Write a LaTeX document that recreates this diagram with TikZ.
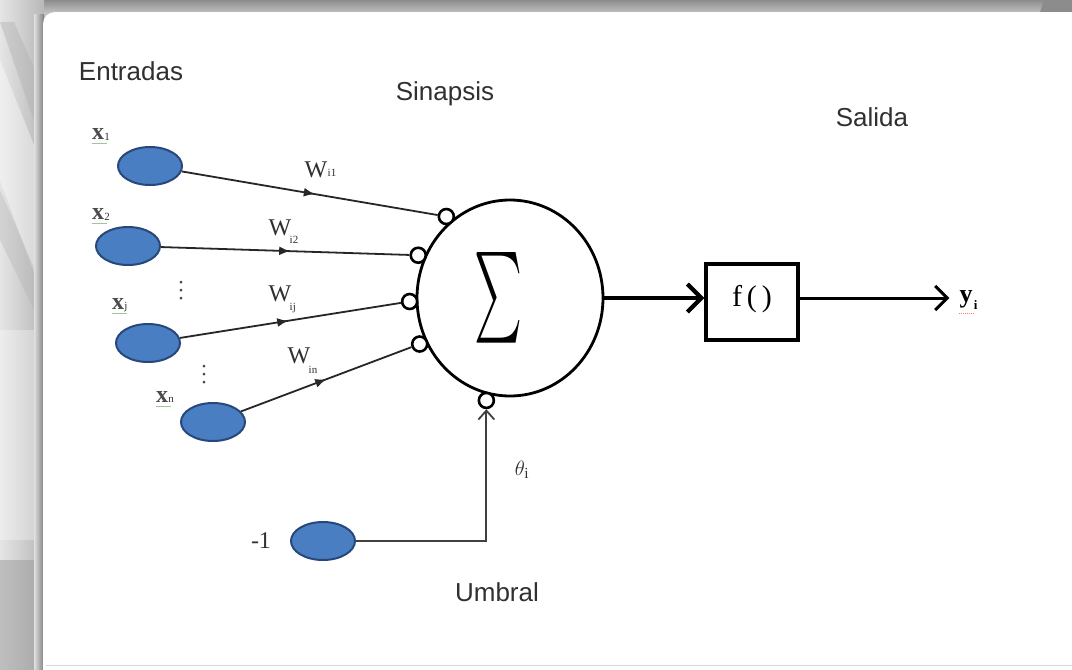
\documentclass[tikz,border=0pt]{standalone}
\usepackage{fontspec}
\usepackage{graphicx}
\setmainfont{Liberation Serif}
\newfontfamily\labelsans{Liberation Sans}
\usetikzlibrary{arrows.meta,calc,decorations.markings,shapes.geometric}

\definecolor{inpfill}{HTML}{4A7EC2}
\definecolor{inpedge}{HTML}{27487A}
\definecolor{inktext}{HTML}{303030}

\tikzset{
  inp/.style={ellipse, draw=inpedge, fill=inpfill, line width=2pt,
    minimum width=64pt, minimum height=38pt, inner sep=0pt},
  syn/.style={circle, draw=black, fill=white, line width=2.6pt,
    minimum size=15pt, inner sep=0pt},
  wire/.style={line width=1.8pt, draw=black!85},
  midarrow/.style={postaction=decorate, decoration={markings,
    mark=at position #1 with {\arrow{Latex[length=11pt,width=9pt]}}}},
  heading/.style={font=\labelsans\fontsize{26}{30}\selectfont, text=inktext},
  seriflbl/.style={font=\fontsize{24}{28}\selectfont, text=inktext, inner sep=0pt},
  xlbl/.style={font=\bfseries\fontsize{24}{28}\selectfont, text=black!70, inner sep=0pt},
  sublbl/.style={font=\fontsize{11}{12}\selectfont, text=inktext, inner sep=0pt},
  dot/.style={circle, fill=black!75, inner sep=0pt, minimum size=3pt},
}

\begin{document}
\begin{tikzpicture}[x=1pt, y=-1pt]
  \useasboundingbox (0,0) rectangle (1072,670);

  % backdrop behind the card
  \fill[black!22] (0,0) rectangle (1072,670);
  \shade[top color=black!45, bottom color=black!22] (0,0) rectangle (1072,14);
  \shade[left color=black!10, right color=black!28] (0,0) rectangle (44,670);
  \fill[black!30, opacity=0.45] (0,22) -- (14,22) -- (44,90) -- (44,150) -- cycle;
  \fill[white, opacity=0.4] (0,60) -- (0,180) -- (44,300) -- (44,170) -- cycle;
  \fill[black!30, opacity=0.35] (0,190) -- (0,240) -- (44,330) -- (44,290) -- cycle;
  \fill[white, opacity=0.3] (0,330) rectangle (44,540);
  \fill[black!40, opacity=0.5] (0,560) rectangle (44,670);
  \fill[black!45] (1044,0) -- (1072,0) -- (1072,12) -- (1040,12) -- cycle;

  % the card
  \shade[left color=black!12, right color=black!50] (34,14) rectangle (44,670);
  \fill[white, rounded corners=12pt] (43,12) rectangle (1100,700);
  \draw[black!15, line width=1pt] (46,665) -- (1072,665);

  % headings
  \node[heading] (hin)  at (131,71)  {Entradas};
  \node[heading] (hsyn) at (445,94)  {Sinapsis};
  \node[heading] (hout) at (872,117) {Salida};
  \node[heading] (hthr) at (497,592) {Umbral};

  % inputs
  \node[inp] (x1) at (150,166) {};
  \node[inp] (x2) at (128,246) {};
  \node[inp] (xj) at (148,343) {};
  \node[inp] (xn) at (213,422) {};
  \node[inp] (m1) at (323,541) {};

  % input labels
  \node[xlbl] (lx1) at (98,134) {x};
  \node[sublbl, anchor=west] (lx1s) at ($(lx1.south east)+(0,-3)$) {1};
  \node[xlbl] (lx2) at (98,214) {x};
  \node[sublbl, anchor=west] (lx2s) at ($(lx2.south east)+(0,-3)$) {2};
  \node[xlbl] (lxj) at (118,304) {x};
  \node[sublbl, anchor=west] (lxjs) at ($(lxj.south east)+(0,-3)$) {j};
  \node[xlbl] (lxn) at (162,397) {x};
  \node[sublbl, anchor=west] (lxns) at ($(lxn.south east)+(0,-3)$) {n};
  \foreach \p in {lx1,lx2,lxj,lxn}
    \draw[green!45!black!40, line width=0.9pt] ($(\p.south west)+(0,4)$) -- ($(\p.south east)+(3,4)$);
  \foreach \yy in {282,290,298} \node[dot] at (181,\yy) {};
  \foreach \yy in {366,374,382} \node[dot] at (204,\yy) {};
  \node[seriflbl] (lm1) at (261,541) {-1};

  % summation unit
  \node[ellipse, draw, line width=2.8pt, minimum width=186pt, minimum height=196pt,
        inner sep=0pt] (sig) at (510,298) {};
  \node[inner sep=0pt] (sigma) at (498,298) {\resizebox{48pt}{68pt}{$\textstyle\sum$}};

  % synapses on the unit's rim
  \node[syn] (s1) at ($(sig.128)!-6pt!(sig.center)$) {};
  \node[syn] (s2) at ($(sig.155)!-6pt!(sig.center)$) {};
  \node[syn] (s3) at ($(sig.182)!-6pt!(sig.center)$) {};
  \node[syn] (s4) at ($(sig.207)!-6pt!(sig.center)$) {};
  \node[syn] (s5) at ($(sig.257)!-6pt!(sig.center)$) {};

  % weighted connections
  \draw[wire, midarrow=0.52] (x1) -- (s1);
  \draw[wire, midarrow=0.52] (x2) -- (s2);
  \draw[wire, midarrow=0.49] (xj) -- (s3);
  \draw[wire, midarrow=0.50] (xn) -- (s4);

  % weight labels
  \node[seriflbl] (w1) at (316,170) {W};
  \node[sublbl, anchor=west] (w1s) at ($(w1.south east)+(0,-5)$) {i1};
  \node[seriflbl] (w2) at (280,228) {W};
  \node[sublbl, anchor=west] (w2s) at ($(w2.south east)+(-2,4)$) {i2};
  \node[seriflbl] (w3) at (280,294) {W};
  \node[sublbl, anchor=west] (w3s) at ($(w3.south east)+(-2,6)$) {ij};
  \node[seriflbl] (w4) at (299,356) {W};
  \node[sublbl, anchor=west] (w4s) at ($(w4.south east)+(-2,6)$) {in};

  % threshold input
  \draw[wire, draw=black!75, -{Straight Barb[length=9pt,width=16pt,line width=1.8pt]}]
    (m1.east) -| (s5.south);
  \node[text=inktext, font=\fontsize{22}{24}\selectfont] (th) at (522,470) {$\theta_{\mathrm{i}}$};

  % activation function and output
  \node[draw, line width=3.2pt, minimum width=92pt, minimum height=76pt, inner sep=0pt]
    (f) at (752,302) {};
  \node[font=\fontsize{30}{32}\selectfont, inner sep=0pt] (ftxt) at (752,299) {f\,(\,)};
  \draw[line width=4.2pt, -{Straight Barb[length=14pt,width=28pt,line width=4.2pt]}]
    (sig.east) -- (sig.east -| f.west);
  \node[font=\bfseries\fontsize{26}{28}\selectfont, inner sep=0pt] (y) at (966,299) {y};
  \node[font=\bfseries\fontsize{13}{14}\selectfont, anchor=west, inner sep=0pt] (ys) at ($(y.east)+(1,6)$) {i};
  \draw[red!55, line width=0.9pt, densely dotted] ($(y.south west)+(0,5)$) -- ($(y.south east)+(0,5)$);
  \draw[line width=3pt, -{Straight Barb[length=12pt,width=24pt,line width=3pt]}]
    (f.east |- sig.east) -- ($(y.west |- sig.east)+(-10,0)$);
\end{tikzpicture}
\end{document}
